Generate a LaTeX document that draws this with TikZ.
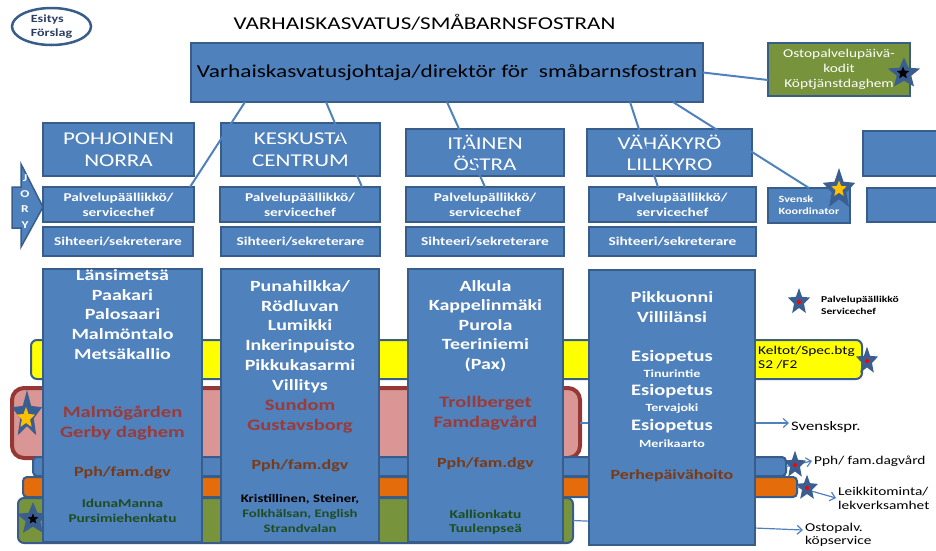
\documentclass[tikz,border=0pt]{standalone}
\usepackage{fontspec}
\setmainfont{Carlito}[FakeStretch=1.28]
\usetikzlibrary{arrows.meta,shapes.geometric}
\definecolor{bfill}{HTML}{4F81BD}
\definecolor{bline}{HTML}{385D8A}
\definecolor{sblue}{HTML}{3A5E90}
\definecolor{dred}{HTML}{9C3A37}
\definecolor{pbrown}{HTML}{7A3A16}
\definecolor{dgreen}{HTML}{1E4D20}
\definecolor{pinkf}{HTML}{D99694}
\definecolor{pinkb}{HTML}{953735}
\definecolor{orangef}{HTML}{E46C0A}
\definecolor{greenf}{HTML}{77933C}
\definecolor{goldf}{HTML}{FFC000}
\definecolor{yellf}{HTML}{FFFF00}
\definecolor{esinavy}{HTML}{2B3F63}
\newcommand{\fsz}[2]{\fontsize{#1}{#2}\selectfont}
\tikzset{
  pics/bstar/.style n args={3}{code={
    \fill[#3] (90:#1pt and #2pt)
      \foreach \a/\r in {126/0.45,162/1,198/0.45,234/1,270/0.45,306/1,342/0.45,18/1,54/0.45}{
        -- (\a:{\r*#1pt} and {\r*#2pt})} -- cycle;
  }},
}
\begin{document}
\begin{tikzpicture}[x=1pt,y=-1pt,
  bx/.style={draw=bline, line width=2.5pt, fill=bfill, inner sep=0pt, outer sep=0pt, text=white, align=center},
  band/.style={draw=bline, line width=2pt, inner sep=0pt, outer sep=0pt},
  wtxt/.style={text=white, align=center, inner sep=0pt},
  rtxt/.style={text=dred, align=center, inner sep=0pt, font=\bfseries\fsz{16}{20}},
  ptxt/.style={text=pbrown, align=center, inner sep=0pt, font=\bfseries\fsz{14}{17}},
  gtxt/.style={text=dgreen, align=center, inner sep=0pt},
  link/.style={draw=bfill, line width=2pt},
  arr/.style={draw=bfill, line width=1.2pt, -{Straight Barb[length=5pt,width=9pt]}},
  redd/.style={fill=red},
]
\useasboundingbox (0,0) rectangle (936,550);

% ---- title and badge
\node[draw=bline, line width=2.5pt, ellipse, minimum width=79pt, minimum height=37pt, inner sep=0pt,
      text=esinavy, font=\bfseries\fsz{11}{14}, align=left] (esitys) at (51.5,26.5) {Esitys\\Förslag};
\node[font=\fsz{18}{22}] (title) at (424.5,22) {VARHAISKASVATUS/SMÅBARNSFOSTRAN};

% ---- horizontal bands
\node[band, fill=yellf, rounded corners=6pt, minimum width=831pt, minimum height=39pt] (yband) at (446.5,359.5) {};
\node[band, draw=pinkb, line width=4pt, fill=pinkf, rounded corners=12pt, minimum width=568pt, minimum height=70pt] (pband) at (296,423) {};
\node[band, fill=bfill, rounded corners=4pt, minimum width=753pt, minimum height=19pt] (bband) at (409.5,466.5) {};
\node[band, fill=orangef, rounded corners=4pt, minimum width=774pt, minimum height=20pt] (oband) at (410,487) {};
\node[band, fill=greenf, rounded corners=6pt, minimum width=555pt, minimum height=45pt] (gband) at (295.5,520.5) {};

% ---- right side labels
\node[font=\bfseries\fsz{9}{12.5}, align=left, anchor=west, inner sep=0pt] (legtxt) at (821,305.5) {Palvelupäällikkö\\Servicechef};
\node[font=\fsz{12}{14}, align=left, anchor=west, inner sep=0pt] (keltxt) at (758,358) {Keltot/Spec.btg\\S2 /F2};
\node[font=\fsz{13}{15}, anchor=west, inner sep=2pt] (svtxt) at (789,427) {Svenskspr.};
\node[font=\fsz{12}{14}, anchor=west, inner sep=2pt] (pphtxt) at (812,461) {Pph/ fam.dagvård};
\node[font=\fsz{12}{14}, align=left, anchor=west, inner sep=2pt] (leiktxt) at (836,498) {Leikkitominta/\\lekverksamhet};
\node[font=\fsz{12}{13}, align=left, anchor=west, inner sep=2pt] (ostxt) at (803,535) {Ostopalv.\\köpservice};

% ---- arrows
\draw[arr] (pband.east) -- (pband.east -| svtxt.west);
\draw[arr] (bband.east) -- (pphtxt.west);
\draw[arr] (oband.east) -- (leiktxt.west);
\draw[arr] (gband.east) -- ([yshift=5pt]ostxt.west);

% ---- stars
\pic at (799,301.8) {bstar={11.6}{13.8}{sblue}};
\fill[redd] (799,302) circle (2pt);
\pic at (867,361) {bstar={11.6}{14.4}{sblue}};
\fill[redd] (867,361) circle (2pt);
\pic at (795,465) {bstar={11.6}{14.4}{sblue}};
\fill[redd] (795,465) circle (2pt);
\pic at (807,488) {bstar={11.6}{13.3}{sblue}};
\fill[redd] (807,488) circle (2pt);
\pic at (27,415) {bstar={15.8}{25}{sblue}};
\pic at (26,418) {bstar={9.5}{11}{goldf}};
\pic at (33,519) {bstar={17}{17}{sblue}};
\pic at (33,519) {bstar={5.5}{5.5}{black}};

% ---- JORY arrow
\draw[draw=bline, line width=1.5pt, fill=bfill] (12,187) -- (21,187) -- (21,164) -- (43,207) -- (21,247) -- (21,228) -- (12,228) -- cycle;
\node[font=\bfseries\fsz{10.5}{15.7}, text=white, align=center, inner sep=0pt] (jory) at (25,201.5) {J\\O\\R\\Y};

% ---- columns
\node[bx, minimum width=159pt, minimum height=273pt] (col1) at (122.5,405.5) {};
\node[bx, minimum width=158pt, minimum height=273pt] (col2) at (300,405.5) {};
\node[bx, minimum width=155pt, minimum height=273pt] (col3) at (485.5,405.5) {};
\node[bx, minimum width=166pt, minimum height=275pt] (col4) at (672,407.5) {};

% column 1
\node[wtxt, font=\bfseries\fsz{15.6}{19.75}] (c1a) at (122.5,314.5) {Länsimetsä\\Paakari\\Palosaari\\Malmöntalo\\Metsäkallio};
\node[rtxt] (c1b) at (122.5,423) {Malmögården\\Gerby daghem};
\node[ptxt] (c1c) at (122.5,473) {Pph/fam.dgv};
\node[gtxt, font=\bfseries\fsz{12}{15}] (c1d) at (122.5,510.5) {IdunaManna\\Pursimiehenkatu};
% column 2
\node[wtxt, font=\bfseries\fsz{15.6}{19.8}] (c2a) at (300,336.5) {Punahilkka/\\Rödluvan\\Lumikki\\Inkerinpuisto\\Pikkukasarmi\\Villitys};
\node[rtxt] (c2b) at (300,416) {Sundom\\Gustavsborg};
\node[ptxt] (c2c) at (300,466) {Pph/fam.dgv};
\node[gtxt, font=\bfseries\fsz{11.5}{15}] (c2d) at (300,513) {\textcolor{black}{Kristillinen, Steiner,}\\Folkhälsan, English\\Strandvalan};
% column 3
\node[wtxt, font=\bfseries\fsz{15.6}{19.5}] (c3a) at (485.5,326) {Alkula\\Kappelinmäki\\Purola\\Teeriniemi\\(Pax)};
\node[rtxt] (c3b) at (485.5,413.5) {Trollberget\\Famdagvård};
\node[ptxt] (c3c) at (485.5,464) {Pph/fam.dgv};
\node[gtxt, font=\bfseries\fsz{12}{14.5}] (c3d) at (485.5,522) {Kallionkatu\\Tuulenpseä};
% column 4
\node[wtxt, font=\bfseries\fsz{15.6}{20}] (c4a) at (672,307) {Pikkuonni\\Villilänsi};
\node[wtxt, font=\bfseries\fsz{16}{19}] (c4b) at (672,357) {Esiopetus};
\node[wtxt, font=\bfseries\fsz{11}{13}] (c4c) at (672,373.5) {Tinurintie};
\node[wtxt, font=\bfseries\fsz{16}{19}] (c4d) at (672,391) {Esiopetus};
\node[wtxt, font=\bfseries\fsz{11}{13}] (c4e) at (672,408.5) {Tervajoki};
\node[wtxt, font=\bfseries\fsz{16}{19}] (c4f) at (672,426) {Esiopetus};
\node[wtxt, font=\bfseries\fsz{11}{13}] (c4g) at (672,443.5) {Merikaarto};
\node[ptxt] (c4h) at (672,476) {Perhepäivähoito};

% ---- top boxes
\node[bx, text=black, minimum width=512pt, minimum height=59pt, font=\fsz{18.2}{22}] (dir) at (447,72.5) {Varhaiskasvatusjohtaja/direktör för\ \ småbarnsfostran};
\node[bx, fill=greenf, minimum width=142pt, minimum height=53pt, font=\fsz{12}{14.8}] (ostop) at (839,69.5) {Ostopalvelupäivä-\\kodit\\Köptjänstdaghem};

\node[bx, minimum width=151pt, minimum height=53pt, font=\fsz{18}{22.5}] (reg1) at (118.5,149.5) {POHJOINEN\\NORRA};
\node[bx, minimum width=159pt, minimum height=53pt, font=\fsz{18}{22.5}] (reg2) at (300.5,149.5) {KESKUSTA\\CENTRUM};
\node[bx, minimum width=158pt, minimum height=47pt, font=\fsz{18}{21}] (reg3) at (485,152.5) {ITÄINEN\\ÖSTRA};
\node[bx, minimum width=165pt, minimum height=47pt, font=\fsz{18}{21}] (reg4) at (669.5,152.5) {VÄHÄKYRÖ\\LILLKYRO};
\node[bx, minimum width=82pt, minimum height=45pt] (reg5) at (904,153.5) {};

\node[bx, minimum width=151pt, minimum height=35pt, font=\bfseries\fsz{12}{15}] (pal1) at (118.5,204.5) {Palvelupäällikkö/\\servicechef};
\node[bx, minimum width=160pt, minimum height=35pt, font=\bfseries\fsz{12}{15}] (pal2) at (300,204.5) {Palvelupäällikkö/\\servicechef};
\node[bx, minimum width=158pt, minimum height=35pt, font=\bfseries\fsz{12}{15}] (pal3) at (485,204.5) {Palvelupällikkö/\\servicechef};
\node[bx, minimum width=167pt, minimum height=35pt, font=\bfseries\fsz{12}{15}] (pal4) at (672.5,204.5) {Palvelupäällikkö/\\servicechef};
\node[bx, minimum width=82pt, minimum height=35pt, font=\bfseries\fsz{9.5}{12}, align=left] (svk) at (809,205.5) {Svensk\\Koordinator};
\node[bx, minimum width=78pt, minimum height=34pt] (pal5) at (906,205) {};

\node[bx, minimum width=150pt, minimum height=29pt, font=\bfseries\fsz{12}{15}] (sih1) at (118,241.5) {Sihteeri/sekreterare};
\node[bx, minimum width=159pt, minimum height=29pt, font=\bfseries\fsz{12}{15}] (sih2) at (300.5,241.5) {Sihteeri/sekreterare};
\node[bx, minimum width=158pt, minimum height=29pt, font=\bfseries\fsz{12}{15}] (sih3) at (485,241.5) {Sihteeri/sekreterare};
\node[bx, minimum width=167pt, minimum height=29pt, font=\bfseries\fsz{12}{15}] (sih4) at (672.5,241.5) {Sihteeri/sekreterare};

% stars on top boxes
\pic at (904,73.5) {bstar={17}{16}{sblue}};
\pic at (903,73) {bstar={6.5}{6.5}{black}};
\pic at (839,189.5) {bstar={17}{21.5}{sblue}};
\pic at (839,189) {bstar={8}{8.5}{goldf}};

% ---- connectors from director
\draw[link] ([xshift=54pt]dir.south west) -- ([xshift=-4pt]pal1.north east);
\draw[link] ([xshift=135pt]dir.south west) -- ([xshift=-18pt]pal2.north east);
\draw[link] (dir.south) -- (pal3.north);
\draw[link] ([xshift=-73pt]dir.south east) -- ([xshift=69pt]pal4.north west);
\draw[link] ([xshift=-30pt]dir.south east) -- (svk.north);
\draw[link] (dir.east) -- ([yshift=-10.5pt]ostop.west);
\end{tikzpicture}
\end{document}
